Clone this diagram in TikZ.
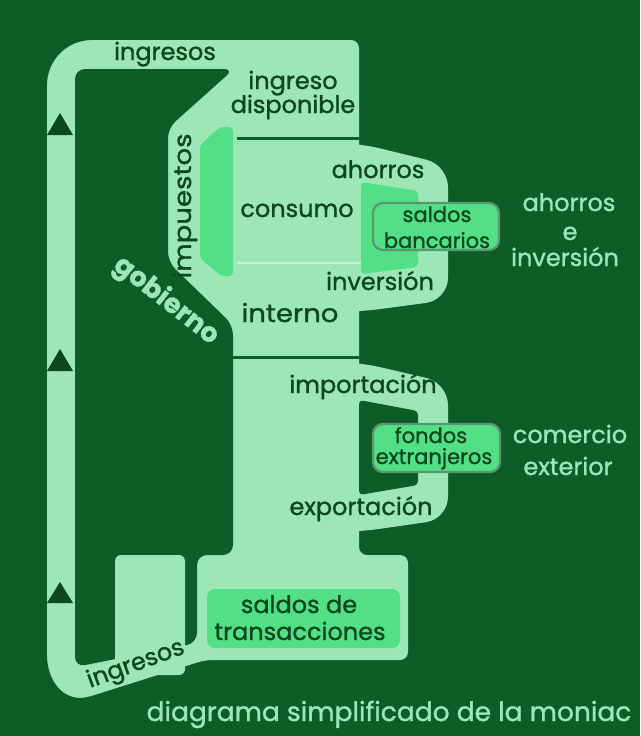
\documentclass[tikz,border=0pt]{standalone}
\usepackage{fontspec}
\setmainfont{Poppins}[FakeBold=1.2]
\definecolor{bg}{HTML}{0F5D26}
\definecolor{light}{HTML}{9DE6B5}
\definecolor{bright}{HTML}{52DF86}
\definecolor{txtdark}{HTML}{0C481E}
\definecolor{gborder}{HTML}{5A9670}
\definecolor{hl}{HTML}{C6F3D4}
\begin{document}
\begin{tikzpicture}[x=1pt,y=-1pt,
  lbl/.style={text=txtdark, font=\fontsize{24}{27}\selectfont, inner sep=0pt, anchor=base},
  lbllight/.style={lbl, text=light},
  boxtxt/.style={lbl, font=\fontsize{21}{24}\selectfont},
  tri/.style={fill=txtdark},
  valve/.style={fill=bright, rounded corners=4pt},
  gauge/.style={fill=bright, draw=gborder, line width=2.2pt, rounded corners=10pt},
  tank/.style={fill=bright, rounded corners=8pt}]
\fill[bg] (0,0) rectangle (640,736);
\useasboundingbox (0,0) rectangle (640,736);
% main light body
\fill[light, rounded corners=8pt] (47,40) -- (359,40) -- (359,555) -- (408,555) -- (408,660) -- (205,660) -- (47,710) -- cycle;
% big outer corners
\fill[bg] (44,37) -- (92,37) -- (92,40) .. controls (67,40) and (47,60) .. (47,85) -- (44,85) -- cycle;
\fill[bg] (44,655) -- (47,655) .. controls (47,683) and (66,704) .. (90,696.4) -- (90,716) -- (44,716) -- cycle;
% bumps
\fill[light, rounded corners=22pt] (330,143) -- (358,143) -- (448,165) -- (448,300) -- (358,312) -- (330,312) -- cycle;
\fill[light, rounded corners=22pt] (330,362) -- (358,362) -- (448,383) -- (448,519) -- (358,532) -- (330,532) -- cycle;
% inner dark region
\fill[bg, rounded corners=10pt] (75,69) -- (234,69) -- (168,128) -- (168,262) -- (233,325) -- (233,555) -- (197,555) -- (197,643) -- (75,667) -- cycle;
\fill[light, rounded corners=6pt] (115,555) rectangle (185,675);
% lower bump hole
\fill[bg, rounded corners=4pt] (359,400) -- (418,411) -- (418,485) -- (359,495) -- cycle;
% dividing lines
\draw[bg, line width=3pt] (237,138) -- (359,138);
\draw[hl, line width=1.5pt] (237,263) -- (361,263);
\draw[bg, line width=3pt] (233,357) -- (359,357);
% valves
\fill[valve] (200,145) -- (220,127) -- (233,127) -- (233,276) -- (221,276) -- (200,258) -- cycle;
\fill[valve] (361,182) -- (418,191) -- (418,267) -- (361,274) -- cycle;
% gauges
\draw[gauge] (373,203) rectangle (499,250);
\draw[gauge] (373,424) rectangle (500,472);
\fill[tank] (207,589) rectangle (400,648);
% arrows on the left bar
\fill[tri] (60,113) -- (73,135) -- (47,135) -- cycle;
\fill[tri] (60,349) -- (73,371) -- (47,371) -- cycle;
\fill[tri] (60,582) -- (73,603) -- (47,603) -- cycle;
% labels
\node[lbl] (ingTop) at (165,60) {ingresos};
\node[lbl] (ingDisp1) at (293,89) {ingreso};
\node[lbl] (ingDisp2) at (293,113) {disponible};
\node[lbl, rotate=90, anchor=center, font=\fontsize{24}{27}\selectfont\addfontfeature{FakeStretch=1.15}] (imp) at (185,206) {impuestos};
\node[lbl] (ahorros) at (378,178) {ahorros};
\node[lbl] (consumo) at (297,217) {consumo};
\node[lbl] (inversion) at (380,290) {inversión};
\node[lbl, font=\fontsize{25}{28}\selectfont\addfontfeature{FakeStretch=1.1}] (interno) at (290,322) {interno};
\node[lbllight, rotate=-38, anchor=center, font=\fontsize{27}{30}\selectfont\bfseries] (gob) at (166,301) {gobierno};
\node[boxtxt] (sb1) at (437,222) {saldos};
\node[boxtxt] (sb2) at (437,248) {bancarios};
\node[lbl] (import) at (363,393) {importación};
\node[boxtxt] (fe1) at (431,443) {fondos};
\node[boxtxt] (fe2) at (434,464) {extranjeros};
\node[lbl] (export) at (361,515) {exportación};
\node[lbl] (st1) at (299,613) {saldos de};
\node[lbl] (st2) at (300,640) {transacciones};
\node[lbl, rotate=20, anchor=center] (ingBot) at (136,665) {ingresos};
\node[lbllight] (ai1) at (569,211) {ahorros};
\node[lbllight] (ai2) at (570,240) {e};
\node[lbllight] (ai3) at (565,266) {inversión};
\node[lbllight] (ce1) at (570,443) {comercio};
\node[lbllight] (ce2) at (568,475) {exterior};
\node[lbllight, font=\fontsize{26.5}{29}\selectfont] (title) at (389,721) {diagrama simplificado de la moniac};
\end{tikzpicture}
\end{document}
